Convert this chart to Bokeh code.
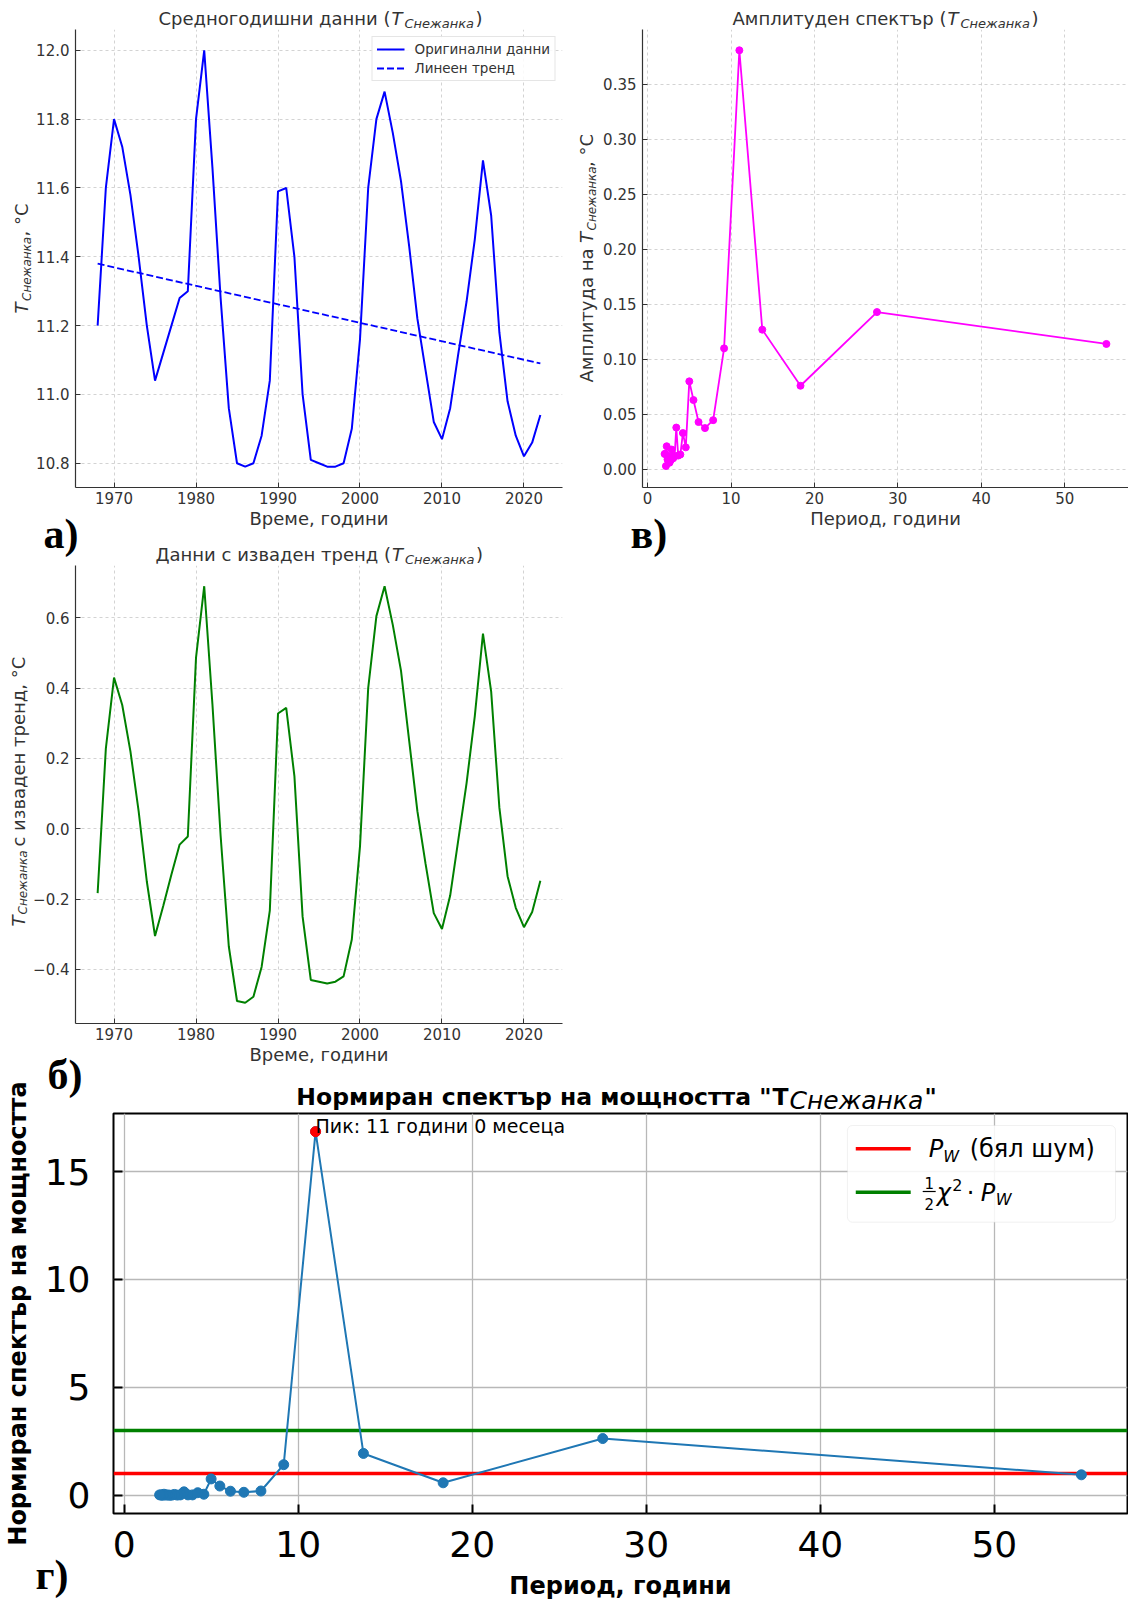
import math
from bokeh.plotting import figure
from bokeh.models import (Range1d, FixedTicker, Label, Legend, LegendItem,
                          BoxAnnotation, NumeralTickFormatter)
from bokeh.layouts import row, column
from bokeh.embed import file_html
from bokeh.resources import INLINE

# ---------------- data ----------------
years = [1968, 1969, 1970, 1971, 1972, 1973, 1974, 1975, 1976, 1977, 1978, 1979,
         1980, 1981, 1982, 1983, 1984, 1985, 1986, 1987, 1988, 1989, 1990, 1991,
         1992, 1993, 1994, 1995, 1996, 1997, 1998, 1999, 2000, 2001, 2002, 2003,
         2004, 2005, 2006, 2007, 2008, 2009, 2010, 2011, 2012, 2013, 2014, 2015,
         2016, 2017, 2018, 2019, 2020, 2021, 2022]
temp_mean = [11.20, 11.60, 11.80, 11.72, 11.58, 11.40, 11.20, 11.04, 11.12, 11.20,
             11.28, 11.30, 11.80, 12.00, 11.66, 11.28, 10.96, 10.80, 10.79, 10.80,
             10.88, 11.04, 11.59, 11.60, 11.40, 11.00, 10.81, 10.80, 10.79, 10.79,
             10.80, 10.90, 11.16, 11.60, 11.80, 11.88, 11.76, 11.62, 11.43, 11.22,
             11.07, 10.92, 10.87, 10.96, 11.12, 11.27, 11.45, 11.68, 11.52, 11.18,
             10.98, 10.88, 10.82, 10.86, 10.94]
trend_years = [1968, 2022]
trend_vals = [11.38, 11.09]
detrended = [-0.183, 0.228, 0.430, 0.352, 0.220, 0.050, -0.150, -0.305, -0.220, -0.130,
             -0.045, -0.022, 0.487, 0.690, 0.355, -0.020, -0.335, -0.490, -0.495, -0.478,
             -0.393, -0.233, 0.328, 0.344, 0.150, -0.250, -0.430, -0.435, -0.440, -0.435,
             -0.420, -0.315, -0.050, 0.400, 0.605, 0.690, 0.580, 0.450, 0.250, 0.050,
             -0.100, -0.240, -0.285, -0.190, -0.030, 0.130, 0.320, 0.555, 0.390, 0.060,
             -0.135, -0.225, -0.280, -0.237, -0.148]
periods = [55.0, 27.5, 18.33, 13.75, 11.0, 9.17, 7.86, 6.88, 6.11, 5.5, 5.0, 4.58,
           4.23, 3.93, 3.67, 3.44, 3.24, 3.06, 2.89, 2.75, 2.62, 2.5, 2.39, 2.29,
           2.2, 2.12, 2.04]
amplitude = [0.114, 0.143, 0.076, 0.127, 0.381, 0.110, 0.0447, 0.0375, 0.043, 0.063,
             0.080, 0.020, 0.033, 0.0135, 0.0125, 0.038, 0.012, 0.010, 0.018, 0.008,
             0.006, 0.012, 0.009, 0.021, 0.003, 0.014, 0.014]
norm_power = [0.95, 2.63, 0.58, 1.94, 16.85, 1.42, 0.20, 0.14, 0.19, 0.43, 0.76, 0.05,
              0.12, 0.02, 0.02, 0.16, 0.02, 0.01, 0.04, 0.01, 0.00, 0.02, 0.01, 0.05,
              0.00, 0.02, 0.02]
white_noise_level = [1.0]
chi2_level = [3.0]

a_xticks = [1970, 1980, 1990, 2000, 2010, 2020]
a_yticks = [10.8, 11.0, 11.2, 11.4, 11.6, 11.8, 12.0]
b_yticks = [-0.4, -0.2, 0.0, 0.2, 0.4, 0.6]
b_ytick_labels = ["\u22120.4", "\u22120.2", "0.0", "0.2", "0.4", "0.6"]
v_xticks = [0, 10, 20, 30, 40, 50]
v_yticks = [0.0, 0.05, 0.10, 0.15, 0.20, 0.25, 0.30, 0.35]
g_xticks = [0, 10, 20, 30, 40, 50]
g_yticks = [0, 5, 10, 15]

# ---------------- layout helpers ----------------
A_X = (1965.3, 2024.7)
A_Y = (10.7295, 12.0605)
B_Y = (-0.554, 0.749)
V_X = (-0.61, 57.65)
V_Y = (-0.0165, 0.3999)
G_X = (-0.61, 57.65)
G_Y = (-0.8425, 17.69)
PAGE_W, PAGE_H = 1128, 1600
BASE_FIX = 0.32   # em shift that puts the drawn baseline where it is asked for


class Frame:
    def __init__(self, fx0, fy0, fw, fh, xr, yr):
        self.fx0, self.fy0, self.fw, self.fh, self.xr, self.yr = fx0, fy0, fw, fh, xr, yr

    def x(self, px):
        return self.xr[0] + (px - self.fx0) / self.fw * (self.xr[1] - self.xr[0])

    def y(self, py):
        return self.yr[1] - (py - self.fy0) / self.fh * (self.yr[1] - self.yr[0])

    def py(self, y):
        return self.fy0 + (self.yr[1] - y) / (self.yr[1] - self.yr[0]) * self.fh

    def px(self, x):
        return self.fx0 + (x - self.xr[0]) / (self.xr[1] - self.xr[0]) * self.fw


FG = Frame(112, 1113, 1015, 400, G_X, G_Y)
FP = Frame(0, 0, PAGE_W, PAGE_H, (0, PAGE_W), (0, PAGE_H))

GRAY = "#333333"


def no_align(p):
    try:
        p.frame_align = False
    except Exception:
        pass


def base_fig(w, h, ml, mr, mt, mb, xr, yr, margin=None):
    kw = dict(width=w, height=h, x_range=Range1d(*xr), y_range=Range1d(*yr),
              output_backend="svg", toolbar_location=None, title=None,
              min_border_left=ml, min_border_right=mr,
              min_border_top=mt, min_border_bottom=mb)
    if margin is not None:
        kw["margin"] = margin
    p = figure(**kw)
    no_align(p)
    p.border_fill_color = None
    p.background_fill_color = "white"
    return p


def add_text(p, F, px, py, text, size, style="normal", color=GRAY, align="left",
             font="DejaVu Sans", angle=0.0, level="annotation"):
    if angle == 0.0:
        py = py - BASE_FIX * size
    else:
        px = px - BASE_FIX * size
    p.add_layout(Label(x=F.x(px), y=F.y(py), text=text, text_font=font,
                       text_font_size=f"{size}px", text_font_style=style,
                       text_color=color, text_align=align, text_baseline="alphabetic",
                       angle=angle, level=level))


def style_mpl(p, xt, yt):
    p.outline_line_color = None
    for ax in (p.xaxis[0], p.yaxis[0]):
        ax.axis_line_color = GRAY
        ax.axis_line_width = 1.2
        ax.major_tick_in = 5
        ax.major_tick_out = 0
        ax.major_tick_line_color = GRAY
        ax.minor_tick_line_color = None
        ax.major_label_text_font = "DejaVu Sans"
        ax.major_label_text_font_size = "15px"
        ax.major_label_text_color = GRAY
        ax.axis_label_text_font = "DejaVu Sans"
        ax.axis_label_text_font_size = "18px"
        ax.axis_label_text_font_style = "normal"
        ax.axis_label_text_color = GRAY
    p.xaxis[0].ticker = FixedTicker(ticks=xt)
    p.yaxis[0].ticker = FixedTicker(ticks=yt)
    p.xaxis[0].major_label_standoff = 4
    p.yaxis[0].major_label_standoff = 6
    p.xaxis[0].axis_label_standoff = 1
    for g in (p.xgrid[0], p.ygrid[0]):
        g.grid_line_color = "#c8c8c8"
        g.grid_line_width = 0.8
        g.grid_line_dash = "3 3"


UP = math.pi / 2

# ---------------- text layer (titles, subscripted labels, panel letters) ----------------
ov = figure(width=PAGE_W, height=PAGE_H, x_range=Range1d(0, PAGE_W), y_range=Range1d(0, PAGE_H),
            output_backend="svg", toolbar_location=None, title=None,
            x_axis_location=None, y_axis_location=None, min_border=0,
            margin=(-PAGE_H, 0, 0, 0))
no_align(ov)
ov.xgrid.visible = False
ov.ygrid.visible = False
ov.outline_line_color = None
ov.background_fill_color = None
ov.border_fill_color = None


def t(px, py, text, size, **kw):
    add_text(ov, FP, px, py, text, size, **kw)


def title_pieces(main, right_px, base_py):
    t(right_px, base_py, main, 18, align="right")
    t(right_px + 1, base_py, "T", 18, style="italic")
    t(right_px + 14, base_py + 3.2, "Снежанка", 13, style="italic")
    t(right_px + 85, base_py, ")", 18)


def ylabel_pieces(bx, t_start, sub_start, rest_start, rest, pre=None, pre_start=None):
    # vertical label read from bottom to top; bx = baseline x of the main text
    if pre is not None:
        t(bx, pre_start, pre, 18, angle=UP)
    t(bx, t_start, "T", 18, style="italic", angle=UP)
    t(bx + 3, sub_start, "Снежанка", 12, style="italic", angle=UP)
    t(bx, rest_start, rest, 18, angle=UP)


# ---------------- panel а ----------------
fa = base_fig(565, 560, 75, 3, 29, 73, A_X, A_Y)
style_mpl(fa, a_xticks, a_yticks)
fa.yaxis[0].formatter = NumeralTickFormatter(format="0.0")
fa.xaxis[0].axis_label = "Време, години"
r1 = fa.line(years, temp_mean, line_color="#0000ff", line_width=2)
r2 = fa.line(trend_years, trend_vals, line_color="#0000ff", line_width=1.8, line_dash="7 3")
leg = Legend(items=[LegendItem(label="Оригинални данни", renderers=[r1]),
                    LegendItem(label="Линеен тренд", renderers=[r2])],
             location="top_right", margin=7, padding=4, spacing=3,
             glyph_width=28, glyph_height=16, label_height=16, label_standoff=10,
             label_text_font="DejaVu Sans", label_text_font_size="13.5px",
             label_text_color=GRAY, border_line_color="#cccccc",
             background_fill_alpha=0.85)
fa.add_layout(leg)
title_pieces("Средногодишни данни (", 390, 23.8)
ylabel_pieces(27, 313, 300.5, 236, ", °C")
t(43, 546.5, "а)", 42, style="bold", color="black", font="Liberation Serif")

# ---------------- panel в ----------------
fv = base_fig(563, 560, 77, 0, 29, 73, V_X, V_Y)
style_mpl(fv, v_xticks, v_yticks)
fv.yaxis[0].formatter = NumeralTickFormatter(format="0.00")
fv.xaxis[0].axis_label = "Период, години"
fv.line(periods, amplitude, line_color="#ff00ff", line_width=1.8)
fv.scatter(periods, amplitude, size=7, fill_color="#ff00ff", line_color="#ff00ff")
title_pieces("Амплитуден спектър (", 946, 23.8)
ylabel_pieces(592, 242.5, 230, 166.5, ", °C", pre="Амплитуда на", pre_start=382)
t(630, 546.5, "в)", 42, style="bold", color="black", font="Liberation Serif")

# ---------------- panel б ----------------
fb = base_fig(565, 565, 75, 3, 30, 77, A_X, B_Y, margin=(-25, 0, 0, 0))
style_mpl(fb, a_xticks, b_yticks)
fb.yaxis[0].major_label_overrides = dict(zip(b_yticks, b_ytick_labels))
fb.xaxis[0].axis_label = "Време, години"
fb.line(years, detrended, line_color="#008000", line_width=2)
title_pieces("Данни с изваден тренд (", 390.5, 559.6)
ylabel_pieces(23.5, 926, 914, 846, "с изваден тренд, °C")
t(47, 1088, "б)", 42, style="bold", color="black", font="Liberation Serif")

# ---------------- panel г ----------------
fg = base_fig(1128, 530, 112, 1, 43, 87, G_X, G_Y, margin=(-30, 0, 0, 0))
fg.outline_line_color = "black"
fg.outline_line_width = 2
for ax in (fg.xaxis[0], fg.yaxis[0]):
    ax.axis_line_color = None
    ax.major_tick_in = 9
    ax.major_tick_out = 0
    ax.major_tick_line_color = "black"
    ax.major_tick_line_width = 2
    ax.minor_tick_line_color = None
    ax.major_label_text_font = "DejaVu Sans"
    ax.major_label_text_font_size = "36px"
    ax.major_label_text_color = "black"
fg.xaxis[0].ticker = FixedTicker(ticks=g_xticks)
fg.yaxis[0].ticker = FixedTicker(ticks=g_yticks)
fg.xaxis[0].major_label_standoff = 17
fg.yaxis[0].major_label_standoff = 23
fg.yaxis[0].axis_label = "Нормиран спектър на мощността"
fg.yaxis[0].axis_label_text_font = "DejaVu Sans"
fg.yaxis[0].axis_label_text_font_size = "24px"
fg.yaxis[0].axis_label_text_font_style = "bold"
fg.yaxis[0].axis_label_text_color = "black"
fg.yaxis[0].axis_label_standoff = 10
for g in (fg.xgrid[0], fg.ygrid[0]):
    g.grid_line_color = "#b8b8b8"
    g.grid_line_width = 1.3

fg.hspan(y=white_noise_level, line_color="#ff0000", line_width=3.5)
fg.hspan(y=chi2_level, line_color="#008000", line_width=3.5)
fg.line(periods, norm_power, line_color="#1f77b4", line_width=2)
fg.scatter(periods, norm_power, size=10, fill_color="#1f77b4", line_color="#1f77b4")
ipk = max(range(len(norm_power)), key=lambda i: norm_power[i])
pk_x, pk_y = periods[ipk], norm_power[ipk]
fg.scatter([pk_x], [pk_y], size=10, fill_color="#ff0000", line_color="#ff0000")
pk_years = int(pk_x)
pk_months = int(round((pk_x - pk_years) * 12))
add_text(fg, FG, FG.px(pk_x), FG.py(pk_y), f"Пик: {pk_years} години {pk_months} месеца",
         19, color="black")

# title г, x label г, panel letter
t(771, 1104, 'Нормиран спектър на мощността "', 23.5, style="bold", color="black", align="right")
t(772, 1104, "T", 23.5, style="bold", color="black")
t(789, 1108, "Снежанка", 25, style="italic", color="black")
t(924, 1104, '"', 23.5, style="bold", color="black")
t(620, 1593, "Период, години", 24, style="bold", color="black", align="center")
t(35, 1588, "г)", 42, style="bold", color="black", font="Liberation Serif")

# legend г
fg.add_layout(BoxAnnotation(left=FG.x(846.7), right=FG.x(1115), top=FG.y(1125), bottom=FG.y(1221.7),
                            fill_color="white", fill_alpha=0.85, line_color="#d0d0d0",
                            line_width=1, border_radius=5, level="annotation"))
fg.segment(x0=[FG.x(855)], y0=[FG.y(1148.3)], x1=[FG.x(910)], y1=[FG.y(1148.3)],
           line_color="#ff0000", line_width=3.5, level="overlay")
fg.segment(x0=[FG.x(855)], y0=[FG.y(1191.7)], x1=[FG.x(910)], y1=[FG.y(1191.7)],
           line_color="#008000", line_width=3.5, level="overlay")
fg.segment(x0=[FG.x(922)], y0=[FG.y(1191)], x1=[FG.x(935)], y1=[FG.y(1191)],
           line_color="black", line_width=1.2, level="overlay")
LBK = "black"


def lg(px, py, text, size, **kw):
    add_text(fg, FG, px, py, text, size, color=LBK, level="overlay", **kw)


lg(928, 1156.5, "P", 24, style="italic")
lg(942.5, 1161, "W", 16, style="italic")
lg(969, 1156.5, "(бял шум)", 24)
lg(928.5, 1187, "1", 15, align="center")
lg(928.5, 1208, "2", 15, align="center")
lg(936, 1200, "χ", 24, style="italic")
lg(951.5, 1190, "2", 16)
lg(966, 1200, "·", 24)
lg(980, 1200, "P", 24, style="italic")
lg(995, 1204.5, "W", 16, style="italic")

root = column(row(fa, fv), fb, fg, ov)
open("out.html", "w").write(file_html(root, INLINE))
